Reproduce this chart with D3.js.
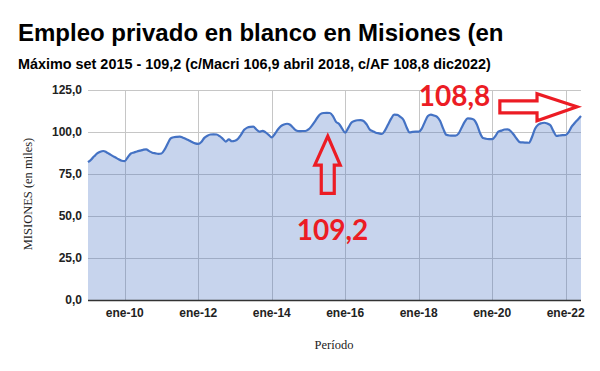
<!DOCTYPE html>
<html>
<head>
	<meta charset="utf-8">
	<title></title>
	<style>
		body { margin: 0; background: #fff; }
		svg { display: block; }
	</style>
</head>
<body>
	<svg id="container" width="600" height="371"></svg>
</body>
<script type="text/javascript" src="https://cdn.jsdelivr.net/npm/d3@7"></script>
<script>
	// monthly values, ene-2009 .. jun-2022
	let v2009 = [82.0, 83.5, 85.5, 87.3, 88.3, 88.7, 88.0, 86.9, 85.8, 84.8, 83.8, 82.9]
	let v2010 = [82.7, 85.0, 87.2, 87.8, 88.4, 88.9, 89.4, 89.7, 88.6, 87.7, 87.3, 87.0]
	let v2011 = [87.2, 89.5, 93.0, 96.2, 96.9, 97.1, 97.2, 96.6, 95.8, 95.0, 94.0, 93.2]
	let v2012 = [92.9, 94.0, 96.5, 97.8, 98.5, 98.6, 98.5, 97.5, 96.0, 94.3, 95.6, 94.5]
	let v2013 = [94.8, 96.0, 98.5, 101.3, 102.6, 103.1, 103.2, 101.5, 100.2, 100.7, 99.8, 98.3]
	let v2014 = [96.8, 98.8, 101.5, 103.5, 104.5, 104.9, 104.3, 102.5, 100.9, 100.5, 100.6, 100.6]
	let v2015 = [101.5, 103.5, 106.0, 108.8, 110.8, 111.3, 111.4, 111.3, 109.5, 106.0, 104.8, 102.0]
	let v2016 = [99.6, 102.5, 105.5, 106.5, 107.0, 107.1, 106.6, 104.5, 101.5, 100.5, 99.6, 99.2]
	let v2017 = [98.8, 101.0, 104.5, 108.0, 110.3, 110.2, 109.0, 107.3, 103.0, 99.8, 100.1, 100.2]
	let v2018 = [100.2, 102.0, 106.0, 109.5, 110.4, 109.8, 109.0, 106.5, 102.0, 98.3, 97.9, 97.8]
	let v2019 = [97.8, 99.0, 102.5, 106.0, 108.1, 108.0, 107.4, 104.5, 99.5, 96.4, 96.0, 95.8]
	let v2020 = [95.7, 97.5, 100.2, 100.8, 101.5, 101.6, 100.6, 98.5, 96.0, 94.0, 93.8, 93.7]
	let v2021 = [93.6, 97.0, 102.0, 104.3, 105.2, 105.5, 105.0, 104.0, 100.5, 97.7, 97.9, 98.1]
	let v2022 = [98.2, 100.0, 103.3, 105.5, 107.5, 109.5]

	let values = [].concat(v2009, v2010, v2011, v2012, v2013, v2014, v2015,
		v2016, v2017, v2018, v2019, v2020, v2021, v2022)

	let xTickIdx = [12, 36, 60, 84, 108, 132, 156]
	let xTickLabels = ["ene-10", "ene-12", "ene-14", "ene-16", "ene-18", "ene-20", "ene-22"]
	let yTicks = [0, 25, 50, 75, 100, 125]

	let title = "Empleo privado en blanco en Misiones (en"
	let subtitle = "Máximo set 2015 - 109,2 (c/Macri 106,9 abril 2018, c/AF 108,8 dic2022)"

	let container = d3.select("#container")
	let plotLeft = 88, plotRight = 581, plotTop = 90, plotBottom = 300
	let red = "#ec1c24"

	let x = d3.scaleLinear()
			.domain([0, values.length - 1])
			.range([plotLeft, plotRight])
	let y = d3.scaleLinear()
			.domain([0, 125])
			.range([plotBottom, plotTop])

	// grid
	container.append("g")
		.selectAll("line")
		.data(yTicks)
		.join("line")
		.attr("x1", plotLeft).attr("x2", plotRight)
		.attr("y1", d => Math.round(y(d)) + 0.5).attr("y2", d => Math.round(y(d)) + 0.5)
		.attr("stroke", "#c6c6c6").attr("stroke-width", 1)
	container.append("g")
		.selectAll("line")
		.data(xTickIdx)
		.join("line")
		.attr("x1", d => Math.round(x(d)) + 0.5).attr("x2", d => Math.round(x(d)) + 0.5)
		.attr("y1", plotTop).attr("y2", plotBottom)
		.attr("stroke", "#c6c6c6").attr("stroke-width", 1)

	// area + line
	let area = d3.area()
			.x((d, i) => x(i))
			.y0(y(0))
			.y1(d => y(d))
			.curve(d3.curveMonotoneX)
	let line = d3.line()
			.x((d, i) => x(i))
			.y(d => y(d))
			.curve(d3.curveMonotoneX)

	container.append("path")
		.datum(values)
		.attr("d", area)
		.attr("fill", "#4472c4")
		.attr("fill-opacity", 0.3)
	container.append("path")
		.datum(values)
		.attr("d", line)
		.attr("fill", "none")
		.attr("stroke", "#4472c4")
		.attr("stroke-width", 2.2)

	// bottom axis line
	container.append("line")
		.attr("x1", plotLeft).attr("x2", plotRight)
		.attr("y1", y(0) + 0.5).attr("y2", y(0) + 0.5)
		.attr("stroke", "#333").attr("stroke-width", 1.3)

	// tick labels
	container.append("g")
		.selectAll("text")
		.data(yTicks)
		.join("text")
		.attr("x", 82)
		.attr("y", d => y(d) + 4)
		.attr("text-anchor", "end")
		.attr("font-family", "Liberation Sans, Arial, sans-serif")
		.attr("font-size", 12)
		.attr("font-weight", "bold")
		.attr("fill", "#222")
		.text(d => d3.format(".1f")(d).replace(".", ","))

	container.append("g")
		.selectAll("text")
		.data(xTickIdx)
		.join("text")
		.attr("x", d => x(d))
		.attr("y", 317)
		.attr("text-anchor", "middle")
		.attr("font-family", "Liberation Sans, Arial, sans-serif")
		.attr("font-size", 12)
		.attr("font-weight", "bold")
		.attr("fill", "#222")
		.text((d, i) => xTickLabels[i])

	// axis titles
	container.append("text")
		.attr("transform", "translate(32," + ((plotTop + plotBottom) / 2 - 1) + ") rotate(-90)")
		.attr("text-anchor", "middle")
		.attr("font-family", "Liberation Serif, serif")
		.attr("font-size", 12.5)
		.attr("fill", "#222")
		.text("MISIONES (en miles)")
	container.append("text")
		.attr("x", 334)
		.attr("y", 349)
		.attr("text-anchor", "middle")
		.attr("font-family", "Liberation Serif, serif")
		.attr("font-size", 12.5)
		.attr("fill", "#222")
		.text("Período")

	// titles
	container.append("text")
		.attr("x", 18).attr("y", 41)
		.attr("font-family", "Liberation Sans, Arial, sans-serif")
		.attr("font-size", 24)
		.attr("font-weight", "bold")
		.attr("fill", "#000")
		.text(title)
	container.append("text")
		.attr("x", 18).attr("y", 69)
		.attr("font-family", "Liberation Sans, Arial, sans-serif")
		.attr("font-size", 14.4)
		.attr("font-weight", "bold")
		.attr("fill", "#000")
		.text(subtitle)

	// annotations (data units: month index, value)
	let upTip = [78.3, 97.5], upBase = [78.3, 63.5]
	let rightTail = [134.5, 113], rightTip = [159.7, 117]

	let ux = x(upTip[0]), uyTip = y(upTip[1]), uyBase = y(upBase[1])
	let upPts = [[ux, uyTip], [ux + 12.5, uyTip + 29], [ux + 6.5, uyTip + 29], [ux + 6.5, uyBase],
		[ux - 6.5, uyBase], [ux - 6.5, uyTip + 29], [ux - 13, uyTip + 29]]
	container.append("polygon")
		.attr("points", upPts.map(p => p.join(",")).join(" "))
		.attr("fill", "none").attr("stroke", red).attr("stroke-width", 3.2)
		.attr("stroke-linejoin", "miter")

	let rx0 = x(rightTail[0]), rx1 = x(rightTip[0]), ry = (y(rightTail[1]) + y(rightTip[1])) / 2
	let rPts = [[rx0, ry - 6], [rx1 - 40, ry - 6], [rx1 - 40, ry - 13], [rx1, ry],
		[rx1 - 40, ry + 14], [rx1 - 40, ry + 6], [rx0, ry + 6]]
	container.append("polygon")
		.attr("points", rPts.map(p => p.join(",")).join(" "))
		.attr("fill", "none").attr("stroke", red).attr("stroke-width", 3.2)

	container.append("text")
		.attr("x", x(68.2)).attr("y", 240)
		.attr("font-family", "Lato, Open Sans, sans-serif")
		.attr("font-size", 28)
		.attr("font-weight", "bold")
		.attr("fill", red)
		.text("109,2")
	container.append("text")
		.attr("x", x(108)).attr("y", 106)
		.attr("font-family", "Lato, Open Sans, sans-serif")
		.attr("font-size", 28)
		.attr("font-weight", "bold")
		.attr("fill", red)
		.text("108,8")
</script>
</html>
